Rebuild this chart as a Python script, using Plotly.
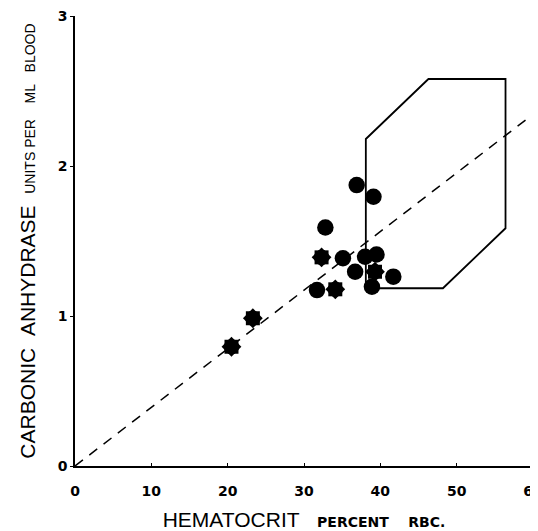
import plotly.graph_objects as go

# Data
circle_hct = [36.9, 39.1, 32.8, 35.1, 38.0, 39.5, 36.7, 41.7, 38.9, 31.7]
circle_ca = [1.873, 1.795, 1.59, 1.385, 1.395, 1.41, 1.295, 1.262, 1.195, 1.173]

star_hct = [32.3, 34.1, 39.3, 23.3, 20.5]
star_ca = [1.391, 1.178, 1.295, 0.985, 0.795]

# normal range polygon
normal_hct = [38.1, 38.1, 46.3, 56.4, 56.4, 48.2, 38.1]
normal_ca = [1.185, 2.18, 2.58, 2.58, 1.585, 1.185, 1.185]

# regression / identity line
line_hct = [0, 60.4]
line_ca = [0, 2.36]

x_ticks = [0, 10, 20, 30, 40, 50, 60]
y_ticks = [0, 1, 2, 3]

fig = go.Figure()

fig.add_trace(go.Scatter(x=line_hct, y=line_ca, mode="lines",
                         line=dict(color="black", width=1.5, dash="10px,8px"),
                         hoverinfo="skip", showlegend=False, cliponaxis=False))
fig.add_trace(go.Scatter(x=normal_hct, y=normal_ca, mode="lines",
                         line=dict(color="black", width=1.8),
                         showlegend=False))
fig.add_trace(go.Scatter(x=circle_hct, y=circle_ca, mode="markers",
                         marker=dict(symbol="circle", size=16.5, color="black",
                                     line=dict(width=0)),
                         showlegend=False))
for sym, sz, ang in [("circle", 15, 0), ("square", 14, 0), ("square", 14, 45)]:
    fig.add_trace(go.Scatter(x=star_hct, y=star_ca, mode="markers",
                             marker=dict(symbol=sym, size=sz, color="black",
                                         angle=ang, line=dict(width=0)),
                             showlegend=False))

small = "font-family:DejaVu Sans;font-weight:bold;font-size:14px"

# page body adds an 8px offset, so the figure is sized to fit the window
fig.update_layout(
    width=530, height=523,
    margin=dict(l=67, r=5, t=8, b=65, autoexpand=False),
    paper_bgcolor="white", plot_bgcolor="white",
    font=dict(family="Liberation Sans, Arial, sans-serif", color="black"),
)

fig.update_xaxes(
    range=[0, 60], tickvals=x_ticks, ticktext=[str(v) for v in x_ticks],
    automargin=False, ticklabeloverflow="allow",
    showgrid=False, zeroline=False, showline=True, linecolor="black", linewidth=1.5,
    ticks="inside", ticklen=3, tickcolor="black",
    tickfont=dict(size=14, weight="bold", family="DejaVu Sans, sans-serif"),
    ticklabelstandoff=11,
    title=dict(text="HEMATOCRIT\u00a0\u00a0\u00a0<span style='" + small + "'>PERCENT\u00a0\u00a0\u00a0\u00a0RBC.</span>",
               font=dict(size=21), standoff=21),
)
fig.update_yaxes(
    range=[0, 3], tickvals=y_ticks, ticktext=[str(v) for v in y_ticks],
    automargin=False, ticklabeloverflow="allow",
    showgrid=False, zeroline=False, showline=True, linecolor="black", linewidth=1.5,
    ticks="outside", ticklen=3, tickcolor="black",
    tickfont=dict(size=14, weight="bold", family="DejaVu Sans, sans-serif"),
    title=dict(text="CARBONIC\u00a0\u00a0ANHYDRASE\u00a0\u00a0<span style='font-size:14px'>UNITS\u00a0PER\u00a0\u00a0\u00a0\u00a0ML\u00a0\u00a0\u00a0BLOOD</span>",
               font=dict(size=21), standoff=16),
)

fig.write_html("out.html")
